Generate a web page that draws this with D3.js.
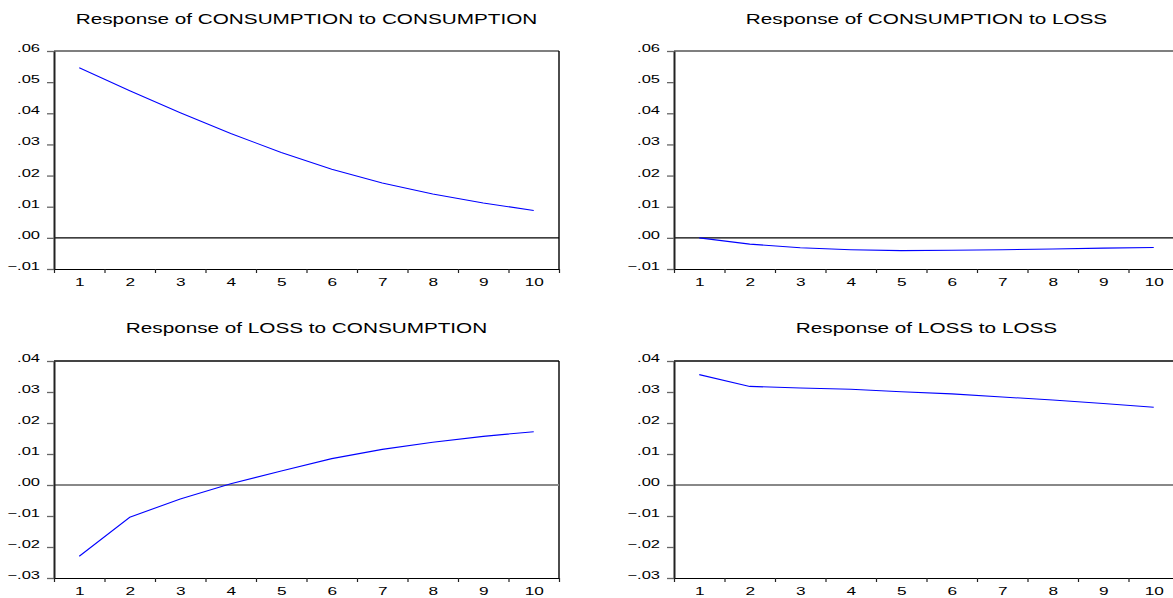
<!DOCTYPE html>
<html>
<head>
<meta charset="utf-8">
<script src="https://cdn.jsdelivr.net/npm/d3@7"></script>
<style>
  html, body { margin: 0; padding: 0; background: #fff; }
  svg { display: block; }
  text { font-family: "Liberation Sans", Arial, sans-serif; fill: #000; }
</style>
</head>
<body>
<svg id="chart" width="1173" height="598"></svg>
<script>
// ---- data ----
const periods = [1, 2, 3, 4, 5, 6, 7, 8, 9, 10];
const titles = [
  "Response of CONSUMPTION to CONSUMPTION",
  "Response of CONSUMPTION to LOSS",
  "Response of LOSS to CONSUMPTION",
  "Response of LOSS to LOSS"
];
const respConsCons = [0.0546, 0.0472, 0.0402, 0.0335, 0.0274, 0.0220, 0.0176, 0.0141, 0.0112, 0.0088];
const respConsLoss = [0.0000, -0.0020, -0.0032, -0.0038, -0.0041, -0.0040, -0.0038, -0.0036, -0.0033, -0.0031];
const respLossCons = [-0.0230, -0.0104, -0.0045, 0.0004, 0.0045, 0.0085, 0.0115, 0.0138, 0.0157, 0.0172];
const respLossLoss = [0.0356, 0.0318, 0.0313, 0.0309, 0.0301, 0.0294, 0.0284, 0.0274, 0.0263, 0.0251];
const yTicksTop = [-0.01, 0.00, 0.01, 0.02, 0.03, 0.04, 0.05, 0.06];
const yTicksBottom = [-0.03, -0.02, -0.01, 0.00, 0.01, 0.02, 0.03, 0.04];

// ---- layout ----
const svg = d3.select("#chart");
const plotW = 505;
const panels = [
  { title: titles[0], values: respConsCons, ticks: yTicksTop, left: 54, top: 51, bottom: 269, titleY: 24, rightBorder: true, heavy: false },
  { title: titles[1], values: respConsLoss, ticks: yTicksTop, left: 674, top: 51, bottom: 269, titleY: 24, rightBorder: true, heavy: false },
  { title: titles[2], values: respLossCons, ticks: yTicksBottom, left: 54, top: 361, bottom: 578, titleY: 333, rightBorder: true, heavy: true },
  { title: titles[3], values: respLossLoss, ticks: yTicksBottom, left: 674, top: 361, bottom: 578, titleY: 333, rightBorder: true, heavy: true }
];

const fmt = v => d3.format(".2f")(Math.abs(v) < 1e-9 ? 0 : v).replace("0.", ".");
const stretchTitle = 1.48;
const stretchTick = 1.5;

panels.forEach(p => {
  const right = p.left + plotW;
  const x = d3.scaleLinear().domain([0.5, 10.5]).range([p.left, right]);
  const y = d3.scaleLinear().domain(d3.extent(p.ticks)).range([p.bottom, p.top]);
  const g = svg.append("g");

  // title
  g.append("text")
    .attr("transform", `translate(${(p.left + right) / 2},${p.titleY}) scale(${stretchTitle},1)`)
    .attr("text-anchor", "middle")
    .style("font-size", "14px")
    .text(p.title);

  // top border
  g.append("line")
    .attr("x1", p.left).attr("x2", right)
    .attr("y1", y(d3.max(p.ticks))).attr("y2", y(d3.max(p.ticks)))
    .attr("stroke", p.heavy ? "#444" : "#000")
    .attr("stroke-width", p.heavy ? 2 : 1.2);

  // right border
  g.append("line")
    .attr("x1", right).attr("x2", right)
    .attr("y1", p.top).attr("y2", p.bottom)
    .attr("stroke", "#000").attr("stroke-width", 1.4);

  // zero line
  g.append("line")
    .attr("x1", p.left).attr("x2", right)
    .attr("y1", y(0)).attr("y2", y(0))
    .attr("stroke", p.heavy ? "#888" : "#000")
    .attr("stroke-width", p.heavy ? 2 : 1.2);

  // y axis
  const ya = g.append("g")
    .attr("transform", `translate(${p.left},0)`)
    .call(d3.axisLeft(y).tickValues(p.ticks).tickSize(7).tickSizeOuter(0).tickFormat(fmt));
  ya.select(".domain").attr("stroke", "#222").attr("stroke-width", 2);
  ya.selectAll(".tick line").attr("stroke", "#666").attr("stroke-width", 1.3);
  ya.selectAll(".tick text")
    .attr("x", null).attr("dy", null)
    .attr("transform", `translate(-14,0.5) scale(${stretchTick},1)`)
    .attr("text-anchor", "end")
    .style("font-size", "11px")
    .style("font-family", '"Liberation Sans", Arial, sans-serif')
    .attr("fill", "#111");

  // x axis (boundary ticks)
  const xb = g.append("g")
    .attr("transform", `translate(0,${p.bottom})`)
    .call(d3.axisBottom(x).tickValues(d3.range(0.5, 11, 1)).tickSize(4).tickSizeOuter(0).tickFormat(""));
  xb.select(".domain").attr("stroke", "#000").attr("stroke-width", 1.2);
  xb.selectAll(".tick line").attr("stroke", "#222").attr("stroke-width", 1.2);

  // x labels
  const xl = g.append("g")
    .attr("transform", `translate(0,${p.bottom})`)
    .call(d3.axisBottom(x).tickValues(periods).tickSize(0).tickFormat(d3.format("d")));
  xl.select(".domain").remove();
  xl.selectAll(".tick text")
    .attr("y", null).attr("dy", null)
    .attr("transform", `translate(0,16.5) scale(${stretchTick},1)`)
    .attr("text-anchor", "middle")
    .style("font-size", "11.5px")
    .style("font-family", '"Liberation Sans", Arial, sans-serif')
    .attr("fill", "#111");

  // response line
  const line = d3.line().x((d, i) => x(periods[i])).y(d => y(d));
  g.append("path")
    .datum(p.values)
    .attr("d", line)
    .attr("fill", "none")
    .attr("stroke", "#0000ff")
    .attr("stroke-width", 1.1);
});
</script>
</body>
</html>
